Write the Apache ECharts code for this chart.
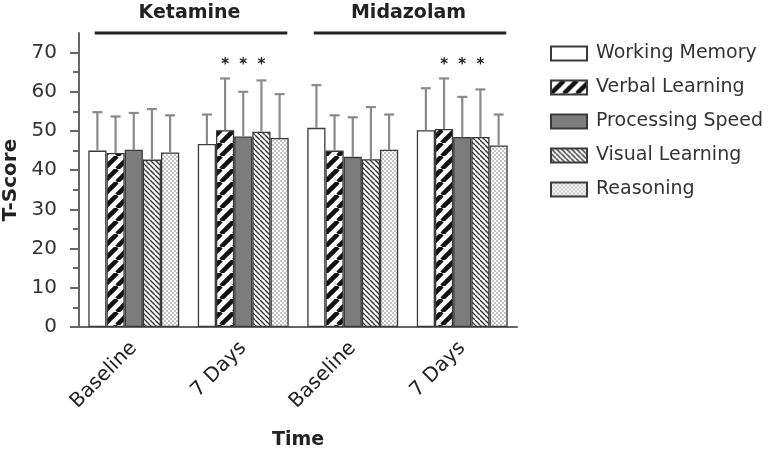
<!DOCTYPE html>
<html>
<head>
<meta charset="utf-8">
<script src="https://cdn.jsdelivr.net/npm/echarts@6/dist/echarts.min.js"></script>
<style>
  html, body { margin: 0; padding: 0; background: #fff; }
  #main { width: 777px; height: 456px; }
</style>
</head>
<body>
<div id="main"></div>
<script>
// categories on the x axis (two drugs, two time points each)
var categories = ['Baseline', '7 Days', 'Baseline', '7 Days'];
var groups = ['Ketamine', 'Midazolam'];
var names = ['Working Memory', 'Verbal Learning', 'Processing Speed', 'Visual Learning', 'Reasoning'];

// mean T-scores, one array per domain
var workingMemory = [45.0, 46.7, 50.8, 50.2];
var verbalLearning = [44.4, 50.2, 45.0, 50.5];
var processingSpeed = [45.2, 48.6, 43.4, 48.5];
var visualLearning = [42.7, 49.8, 42.8, 48.5];
var reasoning = [44.5, 48.2, 45.2, 46.3];

// upper error bar (SD)
var workingMemoryErr = [9.8, 7.5, 10.9, 10.7];
var verbalLearningErr = [9.3, 13.2, 9.0, 12.9];
var processingSpeedErr = [9.4, 11.4, 10.1, 10.2];
var visualLearningErr = [12.9, 13.1, 13.3, 12.1];
var reasoningErr = [9.5, 11.2, 9.0, 7.9];

// significance stars (1 = *)
var verbalLearningSig = [0, 1, 0, 1];
var processingSpeedSig = [0, 1, 0, 1];
var visualLearningSig = [0, 1, 0, 1];
var sigLevel = 66.8;

var yTicks = [0, 10, 20, 30, 40, 50, 60, 70];
var yMinorTicks = [5, 15, 25, 35, 45, 55, 65];

var means = [workingMemory, verbalLearning, processingSpeed, visualLearning, reasoning];
var errs = [workingMemoryErr, verbalLearningErr, processingSpeedErr, visualLearningErr, reasoningErr];
var sigs = [[0, 0, 0, 0], verbalLearningSig, processingSpeedSig, visualLearningSig, [0, 0, 0, 0]];

var FONT = 'DejaVu Sans';
var catGap = 0.17;

/**
 * small repeating canvases for the hatch fills
 */
function stripes(size, width, color, dir) {
  var c = document.createElement('canvas');
  c.width = size; c.height = size;
  var ctx = c.getContext('2d');
  ctx.fillStyle = '#fff';
  ctx.fillRect(0, 0, size, size);
  ctx.strokeStyle = color;
  ctx.lineWidth = width;
  ctx.beginPath();
  for (var k = -1; k <= 1; k++) {
    if (dir > 0) {
      ctx.moveTo(k * size, size); ctx.lineTo(k * size + size, 0);
    } else {
      ctx.moveTo(k * size, 0); ctx.lineTo(k * size + size, size);
    }
  }
  ctx.stroke();
  return { image: c, repeat: 'repeat' };
}

function dots() {
  var c = document.createElement('canvas');
  c.width = 4; c.height = 4;
  var ctx = c.getContext('2d');
  ctx.fillStyle = '#fff';
  ctx.fillRect(0, 0, 4, 4);
  ctx.fillStyle = '#c4c4c4';
  ctx.fillRect(0, 0, 2, 2);
  ctx.fillRect(2, 2, 2, 2);
  return { image: c, repeat: 'repeat' };
}

var fills = [
  '#ffffff',
  stripes(13, 4.5, '#111', 1),
  '#7c7c7c',
  stripes(5, 1.4, '#333', -1),
  dots()
];

// error bars + stars drawn next to each bar
function renderErr(params, api) {
  var cat = api.value(0), s = api.value(1), mean = api.value(2), err = api.value(3), sig = api.value(4);
  var base = api.coord([cat, mean]);
  var band = api.size([1, 0])[0];
  var groupW = band * (1 - catGap);
  var bw = groupW / names.length;
  var x = base[0] - groupW / 2 + (s + 0.5) * bw;
  var top = api.coord([cat, mean + err])[1];
  var st = { stroke: '#8a8a8a', lineWidth: 2.2 };
  var children = [
    { type: 'line', shape: { x1: x, y1: base[1], x2: x, y2: top }, style: st },
    { type: 'line', shape: { x1: x - 5, y1: top, x2: x + 5, y2: top }, style: st }
  ];
  if (sig) {
    children.push({
      type: 'text',
      style: {
        text: '*', x: x, y: api.coord([cat, sigLevel])[1],
        align: 'center', verticalAlign: 'middle',
        font: 'bold 15px ' + FONT, fill: '#222'
      }
    });
  }
  return { type: 'group', children: children };
}

var errData = [];
for (var s = 0; s < names.length; s++) {
  for (var c = 0; c < categories.length; c++) {
    errData.push([c, s, means[s][c], errs[s][c], sigs[s][c]]);
  }
}

var series = names.map(function (n, i) {
  return {
    name: n,
    type: 'bar',
    data: means[i],
    barGap: 0,
    barCategoryGap: (catGap * 100) + '%',
    itemStyle: { color: fills[i], borderColor: '#3a3a3a', borderWidth: 1.3 },
    emphasis: { disabled: true }
  };
});
series.push({
  type: 'custom',
  renderItem: renderErr,
  data: errData,
  encode: { x: 0, y: 2 },
  z: 5,
  silent: true
});

var chart = echarts.init(document.getElementById('main'));
chart.setOption({
  backgroundColor: '#fff',
  animation: false,
  grid: { left: 79, right: 260, top: 33, bottom: 129, outerBoundsMode: 'none' },
  legend: {
    orient: 'vertical',
    left: 545,
    top: 39,
    icon: 'rect',
    itemWidth: 36,
    itemHeight: 14,
    itemGap: 15,
    data: names,
    selectedMode: false,
    textStyle: { fontFamily: FONT, fontSize: 19, color: '#333', padding: [0, 0, 0, 4] }
  },
  xAxis: {
    type: 'category',
    data: categories,
    name: 'Time',
    nameLocation: 'middle',
    nameGap: 104,
    nameTextStyle: { fontFamily: FONT, fontSize: 19, fontWeight: 'bold', color: '#222' },
    axisLine: { lineStyle: { color: '#666', width: 2 } },
    axisTick: { alignWithLabel: true, length: 7, lineStyle: { color: '#666', width: 2 } },
    axisLabel: { rotate: 45, margin: 18, fontFamily: FONT, fontSize: 20, color: '#222' }
  },
  yAxis: [{
    type: 'value',
    min: 0,
    max: 75,
    interval: 10,
    name: 'T-Score',
    nameLocation: 'middle',
    nameGap: 54,
    nameTextStyle: { fontFamily: FONT, fontSize: 20, fontWeight: 'bold', color: '#222' },
    splitLine: { show: false },
    axisLine: { show: true, lineStyle: { color: '#666', width: 2 } },
    axisTick: { show: true, length: 9, customValues: yTicks, lineStyle: { color: '#666', width: 2 } },
    axisLabel: { margin: 22, customValues: yTicks, fontFamily: FONT, fontSize: 20, color: '#333' }
  }, {
    // minor ticks only
    type: 'value',
    min: 0,
    max: 75,
    position: 'left',
    splitLine: { show: false },
    axisLine: { show: false },
    axisTick: { show: true, length: 6, customValues: yMinorTicks, lineStyle: { color: '#666', width: 2 } },
    axisLabel: { show: false }
  }],
  series: series
});

// group headers with bars over the two categories of each drug
var headers = [];
groups.forEach(function (g, i) {
  var x0 = chart.convertToPixel({ xAxisIndex: 0 }, i * 2);
  var x1 = chart.convertToPixel({ xAxisIndex: 0 }, i * 2 + 1);
  var mid = (x0 + x1) / 2;
  headers.push({
    type: 'line',
    shape: { x1: x0 - 39, y1: 33, x2: x1 + 44, y2: 33 },
    style: { stroke: '#222', lineWidth: 3 }
  });
  headers.push({
    type: 'text',
    x: mid + 1,
    y: 13,
    style: {
      text: g, align: 'center', verticalAlign: 'middle',
      font: 'bold 19px ' + FONT, fill: '#222'
    }
  });
});
chart.setOption({ graphic: headers });
</script>
</body>
</html>
